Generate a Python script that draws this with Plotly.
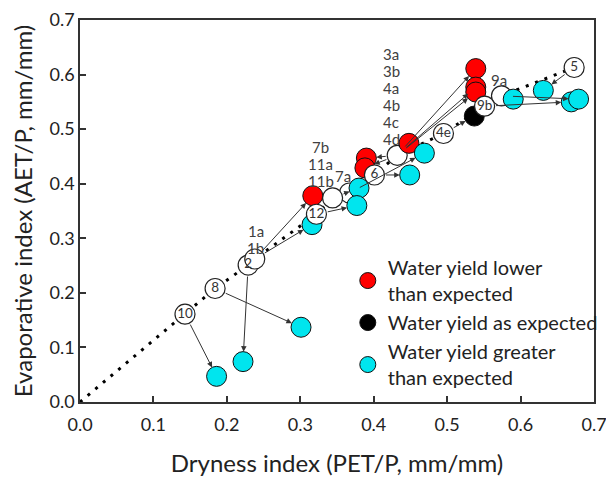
import plotly.graph_objects as go

# ---------------- data ----------------
# expected (open circles, on the dotted curve)
exp_x = [0.143, 0.184, 0.229, 0.238, 0.322, 0.344, 0.367, 0.401, 0.432, 0.495, 0.551, 0.574, 0.673]
exp_y = [0.161, 0.208, 0.251, 0.262, 0.344, 0.374, 0.383, 0.416, 0.452, 0.492, 0.542, 0.561, 0.613]
exp_inner = ["10", "8", "2", "", "12", "", "", "6", "", "4e", "9b", "", "5"]
exp_outer = ["", "", "", "1a|1b", "", "7b|11a|11b", "7a", "",
             "3a|3b|4a|4b|4c|4d", "", "", "9a", ""]

# observed points
lower_x = [0.539, 0.539, 0.539, 0.448, 0.390, 0.388, 0.317]
lower_y = [0.611, 0.577, 0.568, 0.474, 0.447, 0.429, 0.378]
lower_from = [8, 8, 8, 8, 8, 8, 3]

as_x = [0.537]
as_y = [0.524]
as_from = [9]

greater_x = [0.590, 0.631, 0.669, 0.679, 0.469, 0.449, 0.380, 0.377, 0.316, 0.301, 0.222, 0.186]
greater_y = [0.555, 0.571, 0.550, 0.555, 0.456, 0.416, 0.392, 0.360, 0.325, 0.137, 0.074, 0.047]
greater_from = [11, 12, 10, 11, 6, 7, 5, 4, 3, 1, 2, 0]

x_ticks = [0.0, 0.1, 0.2, 0.3, 0.4, 0.5, 0.6, 0.7]
y_ticks = [0.0, 0.1, 0.2, 0.3, 0.4, 0.5, 0.6, 0.7]

# ---------------- style ----------------
FONT = "Lato, 'Open Sans', sans-serif"
TXT = "#222222"
MS = 20
LINE_STEP = 17.0
# pixel offsets (xshift, yshift of the bottom line centre) for outer labels
outer_style = {
    "1a|1b": (1, 11),
    "7b|11a|11b": (-12, 17),
    "7a": (-6, 17),
    "3a|3b|4a|4b|4c|4d": (-6, 16),
    "9a": (-2, 16),
}

fig = go.Figure()

# dotted curve through origin and expected points
curve_x = [0.0] + exp_x
curve_y = [0.0] + exp_y
fig.add_trace(go.Scatter(x=curve_x, y=curve_y, mode="lines",
                         line=dict(color="black", width=3, dash="3px,7px"),
                         hoverinfo="skip", showlegend=False))

# expected open circles (drawn under the coloured ones)
under = {6, 8, 11}
ux = [exp_x[i] for i in range(len(exp_x)) if i in under]
uy = [exp_y[i] for i in range(len(exp_y)) if i in under]
fig.add_trace(go.Scatter(x=ux, y=uy, mode="markers",
                         marker=dict(size=MS, color="white", line=dict(color="#222", width=1.2)),
                         showlegend=False, hoverinfo="skip"))

groups = [
    ("Water yield lower<br>than expected", lower_x, lower_y, "#ff0000"),
    ("Water yield as expected", as_x, as_y, "#000000"),
    ("Water yield greater<br>than expected", greater_x, greater_y, "#00e5ee"),
]
for name, gx, gy, col in groups:
    fig.add_trace(go.Scatter(x=gx, y=gy, mode="markers", name=name,
                             marker=dict(size=MS, color=col, line=dict(color="#111", width=1))))

# expected open circles on top
ox = [exp_x[i] for i in range(len(exp_x)) if i not in under]
oy = [exp_y[i] for i in range(len(exp_y)) if i not in under]
ot = [exp_inner[i] for i in range(len(exp_x)) if i not in under]
fig.add_trace(go.Scatter(x=ox, y=oy, mode="markers+text", text=ot,
                         textposition="middle center",
                         textfont=dict(family=FONT, size=13.5, color="#333"),
                         marker=dict(size=MS, color="white", line=dict(color="#222", width=1.2)),
                         showlegend=False, hoverinfo="skip"))

# arrows expected -> observed
for gx, gy, gf in [(lower_x, lower_y, lower_from), (as_x, as_y, as_from),
                   (greater_x, greater_y, greater_from)]:
    for x1, y1, k in zip(gx, gy, gf):
        fig.add_annotation(x=x1, y=y1, ax=exp_x[k], ay=exp_y[k], xref="x", yref="y",
                           axref="x", ayref="y", showarrow=True, arrowhead=2,
                           arrowsize=1.1, arrowwidth=1, arrowcolor="#333",
                           standoff=MS / 2, startstandoff=MS / 2, text="")

# outer labels (one annotation per line, tight line spacing)
for i, lab in enumerate(exp_outer):
    if not lab:
        continue
    xs, ys = outer_style[lab]
    lines = lab.split("|")
    n = len(lines)
    for j, ln in enumerate(lines):
        fig.add_annotation(x=exp_x[i], y=exp_y[i], text=ln, showarrow=False,
                           xshift=xs, yshift=ys + (n - 1 - j) * LINE_STEP,
                           yanchor="middle", xanchor="center",
                           font=dict(family=FONT, size=15, color="#404040"))

axis_common = dict(range=[0, 0.7], tickformat=".1f",
                   ticks="inside", ticklen=6, tickwidth=1.5, tickcolor="#333",
                   showline=True, linecolor="#333", linewidth=1.5, mirror=True,
                   showgrid=False, zeroline=False, automargin=False,
                   ticklabeloverflow="allow",
                   tickfont=dict(family=FONT, size=18, color=TXT))

fig.update_xaxes(**axis_common, tickvals=x_ticks, ticklabelstandoff=6,
                 title=dict(text="Dryness index (PET/P, mm/mm)", standoff=21,
                            font=dict(family=FONT, size=24, color=TXT)))
fig.update_yaxes(**axis_common, tickvals=y_ticks,
                 title=dict(text="Evaporative index (AET/P, mm/mm)", standoff=10,
                            font=dict(family=FONT, size=24, color=TXT)))

fig.update_layout(
    width=614, height=477,
    margin=dict(l=72, r=28, t=12, b=83),
    paper_bgcolor="white", plot_bgcolor="white",
    font=dict(family=FONT, color=TXT),
    legend=dict(x=0.521, y=0.403, xanchor="left", yanchor="top",
                bgcolor="rgba(0,0,0,0)", font=dict(family=FONT, size=20, color=TXT),
                itemsizing="trace", tracegroupgap=0),
)

fig.write_html("out.html")
